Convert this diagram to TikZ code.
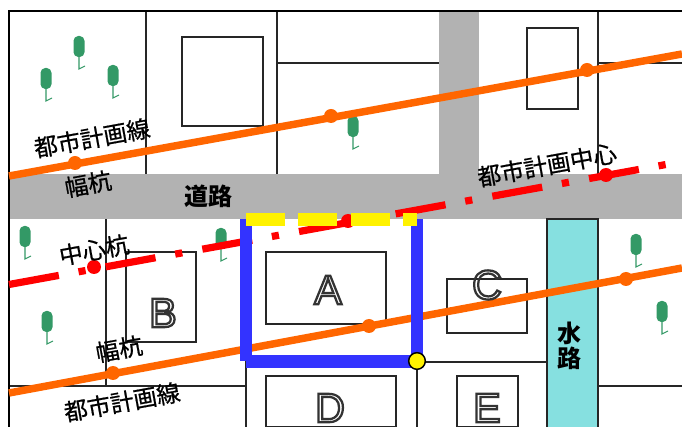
\documentclass[tikz,border=0pt]{standalone}
\usepackage{fontspec}
\setmainfont{Liberation Sans}
\newfontfamily\cjk{Noto Sans CJK JP}
\newfontfamily\cjkm[RawFeature={embolden=0.7}]{Noto Sans CJK JP}
\definecolor{roadgray}{HTML}{B2B2B2}
\definecolor{planorange}{HTML}{FF6600}
\definecolor{siteblue}{HTML}{3333FF}
\definecolor{waterc}{HTML}{86E0E0}
\definecolor{treegreen}{HTML}{339966}
\newcommand{\outl}[1]{\special{pdf:code q 1 Tr 1.7 w 0.2 G 1 g}#1\special{pdf:code Q}}
\tikzset{
  x=0.75pt,y=-0.75pt,
  thinline/.style={draw=black!85,line width=1.1pt},
  plot/.style={draw=black!85,line width=1.1pt,fill=white},
  planline/.style={draw=planorange,line width=5.6pt},
  plandot/.style={circle,fill=planorange,inner sep=0pt,minimum size=10.5pt},
  centerdot/.style={circle,fill=red,inner sep=0pt,minimum size=10.5pt},
  siteline/.style={draw=siteblue,line width=9.6pt},
  label/.style={font=\cjkm\fontsize{17.6}{18}\selectfont,inner sep=0pt},
  boldlabel/.style={inner sep=0pt},
  bigletter/.style={font=\fontsize{31}{33}\selectfont,inner sep=0pt},
  yellowbar/.style={fill=yellow},
  tree/.pic={
    \fill[treegreen,rounded corners=3.6pt] (-5.5,0) rectangle (5.5,21);
    \draw[treegreen,line width=0.8pt] (0,20) -- (0,33) -- (6,30);
  }
}
\begin{document}
\begin{tikzpicture}
\useasboundingbox (0,0) rectangle (682,427);
\fill[white] (0,0) rectangle (682,427);
% plot lines
\draw[thinline] (146,11) -- (146,174);
\draw[thinline] (277,11) -- (277,174);
\draw[thinline] (277,63) -- (439,63);
\draw[thinline] (598,11) -- (598,174);
\draw[thinline] (598,63) -- (682,63);
\draw[thinline] (106,219) -- (106,386);
\draw[thinline] (9,386) -- (246,386);
\draw[thinline] (246,361) -- (246,427);
\draw[thinline] (417,361) -- (417,427);
\draw[thinline] (417,362) -- (547,362);
\draw[thinline] (598,386) -- (682,386);
% buildings
\draw[plot] (182,37) rectangle (263,126);
\draw[plot] (527,28) rectangle (578,109);
\draw[plot] (126,252) rectangle (196,342);
\draw[plot] (266,252) rectangle (386,324);
\draw[plot] (447,279) rectangle (527,333);
\draw[plot] (266,376) rectangle (396,427);
\draw[plot] (457,376) rectangle (518,427);
% roads and water
\fill[roadgray] (9,174) rectangle (682,219);
\fill[roadgray] (439,11) rectangle (479,174);
\draw[thinline,fill=waterc] (547,219) rectangle (598,428);
% trees
\foreach \tx/\ty in {79/36,46/68,113/65,353/116,25/226,221/228,47/311,636/234,662/301}
  \pic at (\tx,\ty) {tree};
% frame
\draw[black,line width=1.6pt] (9,427) -- (9,11) -- (682,11);
% plan lines
\draw[planline] (9,176) -- (682,54);
\draw[planline] (9,393) -- (682,268);
\node[plandot] (w1) at (75,163) {};
\node[plandot] (w2) at (331,116) {};
\node[plandot] (w3) at (587,70) {};
\node[plandot] (w4) at (113,373) {};
\node[plandot] (w5) at (369,326) {};
\node[plandot] (w6) at (626,279) {};
% centre line
\draw[red,line width=5.4pt,dash pattern=on 38pt off 15pt on 5.4pt off 15.3pt] (9,284.5) -- (666,164.5);
\node[centerdot] (c1) at (94,267) {};
\node[centerdot] (c2) at (348,221) {};
\node[centerdot] (c3) at (606,175) {};
% site boundary
\draw[siteline] (246,219) -- (246,361);
\draw[siteline] (417,219) -- (417,361);
\draw[siteline] (246,361.5) -- (417,361.5);
\fill[yellowbar] (246,213) rectangle (285,226);
\fill[yellowbar] (298,213) rectangle (337,226);
\fill[yellowbar] (351,213) rectangle (390,226);
\fill[yellowbar] (403,213) rectangle (417,226);
\node[circle,draw=black,line width=1.1pt,fill=yellow,inner sep=0pt,minimum size=12.5pt] (corner) at (417,361) {};
% labels
\node[label,rotate=10.3] (t1) at (92,138) {都市計画線};
\node[label,rotate=10.3] (t2) at (88,184) {幅杭};
\node[boldlabel,font=\cjk\bfseries\fontsize{18}{20}\selectfont] (t3) at (208,196) {道路};
\node[label,rotate=10.3] (t4) at (547,165) {都市計画中心};
\node[label,rotate=10.3] (t5) at (94,250) {中心杭};
\node[label,rotate=10.3] (t6) at (119,349) {幅杭};
\node[label,rotate=10.3] (t7) at (122,402) {都市計画線};
\node[boldlabel,font=\cjk\bfseries\fontsize{18}{19}\selectfont,align=center] (t8) at (569,346) {水\\路};
\node[bigletter] (la) at (328,290) {\outl{A}};
\node[bigletter] (lb) at (163,313) {\outl{B}};
\node[bigletter] (lc) at (487,285) {\outl{C}};
\node[bigletter] (ld) at (330,408) {\outl{D}};
\node[bigletter] (le) at (487,408) {\outl{E}};
\end{tikzpicture}
\end{document}
